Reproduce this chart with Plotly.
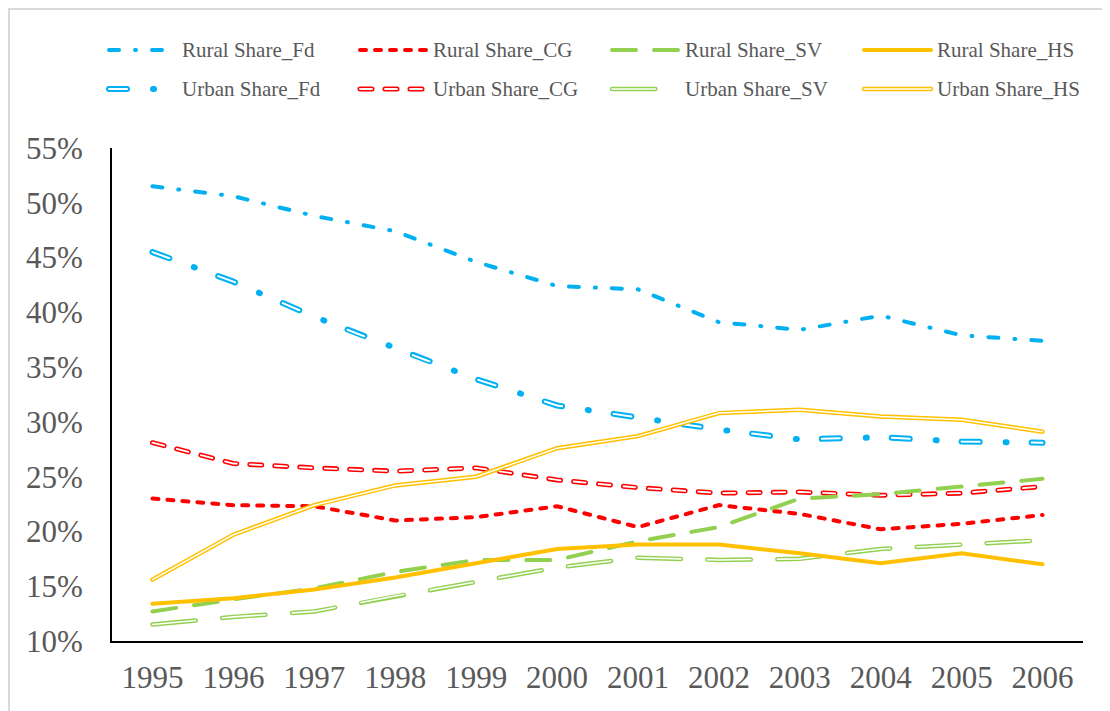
import plotly.graph_objects as go

# ---- data (shares) ----
years = ["1995", "1996", "1997", "1998", "1999", "2000",
         "2001", "2002", "2003", "2004", "2005", "2006"]

rural_fd = [51.5, 50.6, 48.8, 47.4, 44.6, 42.4, 42.1, 39.1, 38.4, 39.7, 37.9, 37.4]
urban_fd = [45.5, 42.8, 39.6, 36.7, 33.9, 31.5, 30.4, 29.3, 28.4, 28.6, 28.2, 28.1]
rural_cg = [23.0, 22.4, 22.3, 21.0, 21.3, 22.3, 20.4, 22.4, 21.6, 20.2, 20.7, 21.5]
urban_cg = [28.1, 26.2, 25.8, 25.5, 25.8, 24.7, 24.0, 23.5, 23.6, 23.3, 23.5, 24.1]
rural_sv = [12.7, 13.8, 14.8, 16.3, 17.4, 17.4, 19.1, 20.4, 23.0, 23.4, 24.1, 24.8]
urban_sv = [11.5, 12.2, 12.7, 14.1, 15.4, 16.7, 17.6, 17.4, 17.5, 18.4, 18.8, 19.2]
rural_hs = [13.4, 13.9, 14.7, 15.8, 17.1, 18.4, 18.8, 18.8, 18.0, 17.1, 18.0, 17.0]
urban_hs = [15.6, 19.7, 22.4, 24.2, 25.0, 27.6, 28.7, 30.8, 31.1, 30.5, 30.2, 29.1]

BLUE, RED, GREEN, GOLD = "#00B0F0", "#FF0000", "#92D050", "#FFC000"
FONT = "Times New Roman, Liberation Serif, serif"
GREY = "#595959"

# (name, values, colour, width, dash, hollow-overlay (width, dash) or None)
# dashes are drawn with round caps (see post_script), so lengths are shortened by the width
series = [
    ("Rural Share_Fd", rural_fd, BLUE, 4, "10px,16px,1px,16px", None),
    ("Urban Share_Fd", urban_fd, BLUE, 6, "18px,26px,1px,25px", (2, "18px,52px")),
    ("Rural Share_CG", rural_cg, RED, 4, "6px,9px", None),
    ("Urban Share_CG", urban_cg, RED, 5, "12px,13px", (1.8, "12px,13px")),
    ("Rural Share_SV", rural_sv, GREEN, 4, "24px,18px", None),
    ("Urban Share_SV", urban_sv, GREEN, 4.5, "43.5px,26.5px", (1.6, "43.5px,26.5px")),
    ("Rural Share_HS", rural_hs, GOLD, 4, "solid", None),
    ("Urban Share_HS", urban_hs, GOLD, 4.5, "solid", (1.5, "solid")),
]

fig = go.Figure()
for name, vals, col, w, dash, hollow in series:
    yv = [v / 100 for v in vals]
    fig.add_trace(go.Scatter(x=years, y=yv, mode="lines", name=name, showlegend=False,
                             line=dict(color=col, width=w, dash=dash)))
    if hollow:
        fig.add_trace(go.Scatter(x=years, y=yv, mode="lines", showlegend=False, hoverinfo="skip",
                                 line=dict(color="white", width=hollow[0], dash=hollow[1])))

# page is drawn with an 8px body margin, so the figure is shifted by OFF
OFF = 8
W_PX, H_PX = 1110 - OFF, 711 - OFF
# plot area in page pixels
L, R, T, B = 112, 1083, 148, 641


def px(x):
    return (x - L) / (R - L)


def py(y):
    return (B - y) / (B - T)


shapes, annotations = [], []
# hand-built legend: 4 columns x 2 rows (rural row, urban row)
col_x = [109, 360, 612, 864]
row_y = [50, 89]
order = [0, 2, 4, 6, 1, 3, 5, 7]
for slot, idx in enumerate(order):
    name, vals, col, w, dash, hollow = series[idx]
    cx, cy = col_x[slot % 4], row_y[slot // 4]
    shapes.append(dict(type="line", xref="paper", yref="paper",
                       x0=px(cx), x1=px(cx + 67), y0=py(cy), y1=py(cy),
                       line=dict(color=col, width=w, dash=dash)))
    if hollow:
        shapes.append(dict(type="line", xref="paper", yref="paper",
                           x0=px(cx), x1=px(cx + 67), y0=py(cy), y1=py(cy),
                           line=dict(color="white", width=hollow[0], dash=hollow[1])))
    annotations.append(dict(text=name, xref="paper", yref="paper", x=px(cx + 71), y=py(cy),
                            xanchor="left", yanchor="middle", showarrow=False,
                            font=dict(family=FONT, size=21, color=GREY)))

# light chart frame (left + top edges)
shapes.append(dict(type="line", xref="paper", yref="paper", x0=px(9), x1=px(9),
                   y0=py(9), y1=py(720), line=dict(color="#D9D9D9", width=2)))
shapes.append(dict(type="line", xref="paper", yref="paper", x0=px(9), x1=px(1120),
                   y0=py(9), y1=py(9), line=dict(color="#D9D9D9", width=2)))

fig.update_layout(
    width=W_PX, height=H_PX,
    margin=dict(l=L - OFF, r=1110 - R, t=T - OFF, b=711 - B),
    paper_bgcolor="white", plot_bgcolor="white",
    font=dict(family=FONT, size=31, color=GREY),
    shapes=shapes, annotations=annotations,
    xaxis=dict(type="category", range=[-0.5, len(years) - 0.5], showgrid=False,
               showline=True, linecolor="#000000", linewidth=2, ticks="",
               ticklabelstandoff=8, zeroline=False,
               tickfont=dict(family=FONT, size=31, color=GREY)),
    yaxis=dict(range=[0.10, 0.55], dtick=0.05, tickformat=".0%", showgrid=False,
               showline=True, linecolor="#000000", linewidth=2, ticks="",
               ticklabelstandoff=21, zeroline=False,
               tickfont=dict(family=FONT, size=31, color=GREY)),
)

# Excel draws dashes with round ends
round_caps = """
var gd = document.getElementById('{plot_id}');
function rc() {
  gd.querySelectorAll('.scatterlayer path.js-line, .shapelayer path').forEach(function (p) {
    p.style.strokeLinecap = 'round';
  });
}
rc(); setTimeout(rc, 0);
if (gd.on) { gd.on('plotly_afterplot', rc); }
"""

fig.write_html("out.html", post_script=round_caps)
